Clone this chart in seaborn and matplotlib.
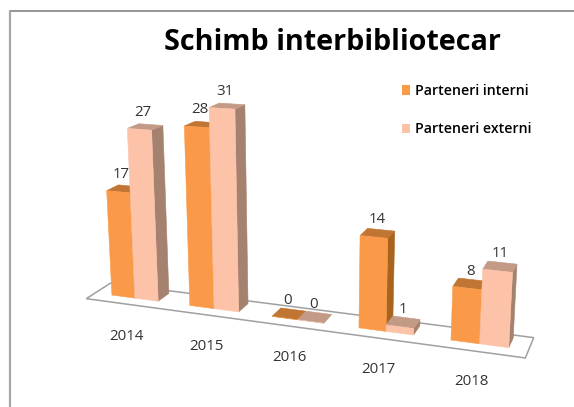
import numpy as np
import pandas as pd
import matplotlib
matplotlib.use("Agg")
import matplotlib.pyplot as plt
import seaborn as sns
from matplotlib.lines import Line2D
from matplotlib.patches import Patch, Polygon
from matplotlib.transforms import Affine2D, Transform

# chart values
years = ["2014", "2015", "2016", "2017", "2018"]
interni = [17, 28, 0, 14, 8]
externi = [27, 31, 0, 1, 11]
series_names = ["Parteneri interni", "Parteneri externi"]

# colours per series: front, top, side
front_colors = ["#FA9A48", "#FCC3A9"]
top_colors = ["#C07632", "#C29A85"]
side_colors = ["#A8641F", "#A5816F"]

# camera calibration: (bar x, value, depth) -> picture pixel
calib = [
    (-0.3, 0, 0, 112.7, 296.0), (0.0, 0, 0, 134.3, 298.3), (0.3, 0, 0, 157.3, 301.0),
    (-0.3, 17, 0, 107.7, 190.7), (0.0, 27, 0, 127.3, 128.3), (0.3, 27, 0, 151.0, 130.0),
    (0.7, 0, 0, 190.3, 306.7), (1.0, 0, 0, 214.0, 309.0), (1.3, 0, 0, 237.7, 311.7),
    (0.7, 28, 0, 185.7, 125.7), (1.0, 31, 0, 209.3, 107.3), (1.3, 31, 0, 233.3, 109.0),
    (2.7, 0, 0, 360.0, 328.3), (3.0, 0, 0, 386.0, 331.0), (3.3, 0, 0, 412.3, 335.0),
    (2.7, 14, 0, 361.3, 235.7), (3.0, 14, 0, 387.3, 237.7),
    (3.7, 0, 0, 452.0, 340.7), (4.0, 0, 0, 480.0, 344.0), (4.3, 0, 0, 507.7, 347.0),
    (3.7, 8, 0, 454.3, 286.0), (4.0, 8, 0, 481.7, 289.3), (4.0, 11, 0, 482.7, 269.3),
    (4.3, 11, 0, 511.3, 271.7),
    (0.3, 0, 1, 168.3, 291.7), (0.3, 27, 1, 162.3, 125.7), (-0.3, 17, 1, 119.3, 185.3),
    (1.3, 0, 1, 247.3, 301.7), (1.3, 31, 1, 244.0, 105.0),
    (2.7, 14, 1, 369.0, 228.7), (3.0, 14, 1, 395.0, 231.7),
    (3.0, 1, 1, 393.3, 316.0), (3.3, 1, 1, 419.0, 320.7),
    (3.7, 8, 1, 460.0, 278.7), (4.0, 11, 1, 488.3, 261.0), (4.3, 11, 1, 515.7, 264.3),
]

A = []
b = []
for x, y, d, u, v in calib:
    A.append([x, y, d, 1, 0, 0, 0, 0, -u * x, -u * y, -u * d])
    A.append([0, 0, 0, 0, x, y, d, 1, -v * x, -v * y, -v * d])
    b += [u, v]
sol = np.linalg.lstsq(np.array(A, float), np.array(b, float), rcond=None)[0]
camera = np.append(sol, 1).reshape(3, 4)


def project(x, y, d=0.0):
    pts = np.column_stack([x, y, np.full(len(x), d) if np.isscalar(d) else d, np.ones(len(x))])
    out = pts @ camera.T
    return out[:, :2] / out[:, 2:]


class FrontPlane(Transform):
    # bar coordinates on the front plane -> picture pixels
    input_dims = output_dims = 2

    def transform_non_affine(self, values):
        values = np.asarray(values)
        return project(values[:, 0], values[:, 1])


sns.set_style("white")
plt.rcParams["font.family"] = ["Open Sans", "DejaVu Sans"]

fig = plt.figure(figsize=(5.74, 4.07), dpi=100)
ax = fig.add_axes([0, 0, 1, 1])

df = pd.DataFrame({
    "an": years * 2,
    "valoare": interni + externi,
    "tip": [series_names[0]] * 5 + [series_names[1]] * 5,
})
sns.barplot(data=df, x="an", y="valoare", hue="tip", palette=front_colors,
            width=0.6, gap=0, saturation=1, legend=False, ax=ax)

pix = Affine2D().scale(1, -1).translate(0, 407)
front = FrontPlane() + pix
text_color = "#333333"

# floor
floor_x = np.array([-0.52, 4.5, 4.5, -0.52])
floor_d = np.array([-0.75, -0.75, 1.3, 1.3])
ax.add_patch(Polygon(project(floor_x, np.zeros(4), floor_d), closed=True, transform=pix,
                     facecolor="white", edgecolor="#A0A0A0", linewidth=1.1, zorder=1))

for s, container in enumerate(ax.containers):
    z = 3 + s * 2
    for bar in container:
        x0 = bar.get_x()
        x1 = x0 + bar.get_width()
        h = bar.get_height()
        bar.set_transform(front)
        bar.set_zorder(z + 0.5)
        bar.set_linewidth(0.4)
        bar.set_edgecolor(front_colors[s])
        bar.set_clip_on(False)

        # side and top faces come from the bar's own geometry
        side = project(np.array([x1, x1, x1, x1]), np.array([0, h, h, 0]), np.array([0, 0, 1, 1]))
        top = project(np.array([x0, x1, x1, x0]), np.array([h, h, h, h]), np.array([0, 0, 1, 1]))
        ax.add_patch(Polygon(side, closed=True, transform=pix, facecolor=side_colors[s],
                             edgecolor=side_colors[s], linewidth=0.4, zorder=z))
        ax.add_patch(Polygon(top, closed=True, transform=pix, facecolor=top_colors[s],
                             edgecolor=top_colors[s], linewidth=0.4, zorder=z + 0.2))

        # value label
        ax.annotate(f"{h:.0f}", xy=((x0 + x1) / 2, h), xycoords=front,
                    xytext=(3, 17), textcoords="offset pixels", ha="center", va="center",
                    fontsize=10.8, color=text_color, zorder=9)

# category labels below the floor
for i, year in enumerate(years):
    ax.annotate(year, xy=(i, 0), xycoords=front, xytext=(-8, -38), textcoords="offset pixels",
                ha="center", va="center", fontsize=10.8, color=text_color, zorder=9)

# legend
handles = [Patch(facecolor=c, edgecolor=c, linewidth=0) for c in front_colors]
ax.legend(handles, series_names, loc="upper left", bbox_to_anchor=(401.5, 84), bbox_transform=pix,
          frameon=False, borderpad=0, borderaxespad=0, handlelength=0.62, handleheight=0.62,
          handletextpad=0.33, labelspacing=1.72, prop={"size": 10.2, "weight": "semibold"},
          labelcolor="black")

# title
ax.text(332, 42, "Schimb interbibliotecar", transform=pix, ha="center", va="center",
        fontsize=20.7, fontweight="bold", color="black", zorder=9)

# frame of the original slide, top and left only
ax.add_line(Line2D([9.5, 574], [10.8, 10.8], transform=pix, color="#8C8C8C", linewidth=1.3, clip_on=False))
ax.add_line(Line2D([9.5, 9.5], [10.8, 407], transform=pix, color="#A6A6A6", linewidth=1.6, clip_on=False))

ax.axis("off")
fig.savefig("out.png", dpi=100)
